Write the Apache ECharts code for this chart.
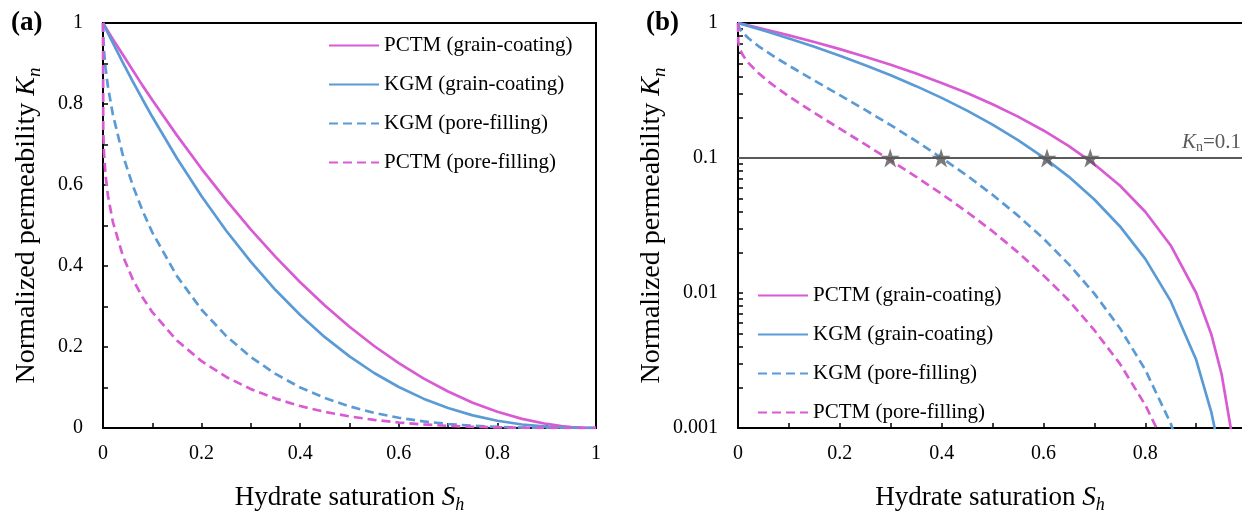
<!DOCTYPE html>
<html><head><meta charset="utf-8">
<script src="https://cdn.jsdelivr.net/npm/echarts@6/dist/echarts.min.js"></script>
<style>html,body{margin:0;padding:0;background:#fff}#c{width:1242px;height:519px}</style>
</head><body><div id="c"></div>
<script>
// Hydrate saturation sample points
const S = [0, 0.0005, 0.002, 0.005, 0.01, 0.02, 0.04, 0.06, 0.08, 0.1, 0.15, 0.2, 0.25, 0.3, 0.35, 0.4, 0.45, 0.5, 0.55, 0.6, 0.65, 0.7, 0.75, 0.8, 0.85, 0.9, 0.93, 0.95, 0.97, 0.98, 0.99, 1];
const pctmGrain = [1, 0.999, 0.996, 0.990, 0.980, 0.960, 0.922, 0.884, 0.846, 0.810, 0.7225, 0.640, 0.5625, 0.490, 0.4225, 0.360, 0.3025, 0.250, 0.2025, 0.160, 0.1225, 0.090, 0.0625, 0.040, 0.0225, 0.010, 0.0049, 0.0025, 0.0009, 0.0004, 0.0001, 0];
const kgmGrain  = [1, 0.9988, 0.995, 0.9875, 0.975, 0.9507, 0.903, 0.8566, 0.8118, 0.7684, 0.6661, 0.5724, 0.4871, 0.410, 0.3406, 0.2789, 0.2243, 0.1768, 0.1358, 0.1012, 0.0725, 0.0493, 0.03125, 0.0179, 0.0087, 0.0032, 0.0013, 0.00056, 0.00016, 0.000057, 0.00001, 0];
const kgmPore   = [1, 0.967, 0.932, 0.891, 0.843, 0.774, 0.675, 0.600, 0.537, 0.483, 0.375, 0.292, 0.227, 0.175, 0.1335, 0.100, 0.0741, 0.0534, 0.0374, 0.0253, 0.0163, 0.0099, 0.0055, 0.0027, 0.00108, 0.0003, 0.0001, 0.00003, 0.000006, 0.000002, 0.0000003, 0];
const pctmPore  = [1, 0.737, 0.680, 0.626, 0.574, 0.509, 0.426, 0.368, 0.323, 0.286, 0.216, 0.165, 0.126, 0.096, 0.0726, 0.0542, 0.0398, 0.0287, 0.0200, 0.0135, 0.0088, 0.0053, 0.0030, 0.00148, 0.00061, 0.00017, 0.00006, 0.00002, 0.000005, 0.000002, 0.0000005, 0];
const seriesNames = ['PCTM (grain-coating)', 'KGM (grain-coating)', 'KGM (pore-filling)', 'PCTM (pore-filling)'];
const seriesValues = [pctmGrain, kgmGrain, kgmPore, pctmPore];
// Sh where Kn = 0.1 (stars)
const starS = [0.299, 0.399, 0.607, 0.692];
const threshold = 0.1;
const linTicks = [0, 0.1, 0.2, 0.3, 0.4, 0.5, 0.6, 0.7, 0.8, 0.9, 1];
const linLabels = [0, 0.2, 0.4, 0.6, 0.8, 1];
const rightXLabels = [0, 0.2, 0.4, 0.6, 0.8];
const logLabels = [0.001, 0.01, 0.1, 1];
const logTicks = [0.001,0.002,0.003,0.004,0.005,0.006,0.007,0.008,0.009,0.01,0.02,0.03,0.04,0.05,0.06,0.07,0.08,0.09,0.1,0.2,0.3,0.4,0.5,0.6,0.7,0.8,0.9,1];
// right panel is cut by the image edge just before Sh = 1
const rightXMax = 0.99;

const PINK = '#D95BD3', BLUE = '#5B9BD5', GRAY = '#595959';
const colors = [PINK, BLUE, BLUE, PINK];
const dashed = [false, false, true, true];
const FONT = 'Liberation Serif';

const tickStyle = {show: true, inside: true, length: 5, lineStyle: {color: '#000', width: 1.5}};
const lineAxis = {show: true, lineStyle: {color: '#000', width: 2}};
const labelStyle = {color: '#000', fontFamily: FONT, fontSize: 20};
function nameStyle(fs) {
  return {
    fontFamily: FONT, fontSize: fs, lineHeight: fs + 6, color: '#000',
    rich: {
      i: {fontStyle: 'italic', fontFamily: FONT, fontSize: fs, lineHeight: fs + 6, color: '#000'},
      s: {fontStyle: 'italic', fontFamily: FONT, fontSize: Math.round(fs * 0.68), lineHeight: Math.round(fs * 0.68), verticalAlign: 'bottom', color: '#000'}
    }
  };
}

function xAxis(gridIndex, max, labels) {
  return {
    type: 'value', gridIndex, min: 0, max, interval: 0.1,
    axisLine: lineAxis, splitLine: {show: false},
    axisTick: Object.assign({}, tickStyle, {customValues: linTicks.filter(v => v <= max)}),
    axisLabel: Object.assign({}, labelStyle, {margin: 16, customValues: labels, formatter: v => String(+v.toFixed(1))}),
    name: 'Hydrate saturation {i|S}{s|h}', nameLocation: 'middle', nameGap: 53,
    nameTextStyle: nameStyle(27)
  };
}
function yName() {
  return {name: 'Normalized permeability {i|K}{s|n}', nameLocation: 'middle', nameGap: 59, nameRotate: 90, nameTextStyle: nameStyle(28)};
}

const series = [];
seriesNames.forEach((n, k) => {
  const base = {
    name: n, type: 'line', symbol: 'none', smooth: false, z: 3,
    lineStyle: {color: colors[k], width: 2.7, type: dashed[k] ? [9, 5] : 'solid'},
    itemStyle: {color: colors[k]}
  };
  series.push(Object.assign({}, base, {xAxisIndex: 0, yAxisIndex: 0,
    data: S.map((s, i) => [s, seriesValues[k][i]])}));
  series.push(Object.assign({}, base, {xAxisIndex: 1, yAxisIndex: 1,
    data: S.map((s, i) => [s, seriesValues[k][i]]).filter(p => p[1] > 0)}));
});
series.push({
  name: 'threshold', type: 'line', xAxisIndex: 1, yAxisIndex: 1, data: [], z: 2,
  markLine: {
    silent: true, symbol: ['none', 'none'],
    lineStyle: {color: GRAY, width: 2, type: 'solid'},
    label: {
      position: 'insideEndTop', distance: [1, 4], color: GRAY,
      formatter: '{k|K}{n|n}{e|=0.1}',
      rich: {
        k: {fontFamily: FONT, fontStyle: 'italic', fontSize: 21, lineHeight: 24, color: GRAY},
        n: {fontFamily: FONT, fontSize: 14, lineHeight: 14, verticalAlign: 'bottom', color: GRAY},
        e: {fontFamily: FONT, fontSize: 21, lineHeight: 24, color: GRAY}
      }
    },
    data: [{yAxis: threshold}]
  }
});
series.push({
  name: 'stars', type: 'scatter', xAxisIndex: 1, yAxisIndex: 1, z: 10,
  symbol: 'path://M50,0 L61.8,35.1 L98.9,35.1 L68.9,56.9 L80.3,92.1 L50,70.3 L19.7,92.1 L31.1,56.9 L1.1,35.1 L38.2,35.1 Z',
  symbolSize: 19, itemStyle: {color: GRAY},
  data: starS.map(s => [s, threshold])
});

const legendBase = {
  orient: 'vertical', itemWidth: 50, itemHeight: 14, itemGap: 18, padding: 0,
  itemStyle: {opacity: 0},
  textStyle: {fontFamily: FONT, fontSize: 21, lineHeight: 21, color: '#000'},
  data: seriesNames
};

const option = {
  animation: false,
  backgroundColor: '#fff',
  title: [
    {text: '(a)', left: 11, top: 10, padding: 0, textStyle: {fontFamily: FONT, fontWeight: 'bold', fontSize: 27, color: '#000'}},
    {text: '(b)', left: 646, top: 10, padding: 0, textStyle: {fontFamily: FONT, fontWeight: 'bold', fontSize: 27, color: '#000'}}
  ],
  legend: [
    Object.assign({}, legendBase, {left: 328, top: 35}),
    Object.assign({}, legendBase, {left: 757, top: 285})
  ],
  grid: [
    {left: 103, top: 23, right: 646, bottom: 81, show: true, borderColor: '#000', borderWidth: 2},
    {left: 738, top: 23, right: 0, bottom: 81, show: false}
  ],
  xAxis: [
    xAxis(0, 1, linLabels),
    xAxis(1, rightXMax, rightXLabels),
    {type: 'value', gridIndex: 1, position: 'top', min: 0, max: rightXMax,
     axisLine: lineAxis, axisTick: {show: false}, axisLabel: {show: false}, splitLine: {show: false}}
  ],
  yAxis: [
    Object.assign({
      type: 'value', gridIndex: 0, min: 0, max: 1, interval: 0.1,
      axisLine: lineAxis, splitLine: {show: false},
      axisTick: Object.assign({}, tickStyle, {customValues: linTicks}),
      axisLabel: Object.assign({}, labelStyle, {margin: 20, customValues: linLabels, formatter: v => String(+v.toFixed(1))})
    }, yName()),
    Object.assign({
      type: 'log', logBase: 10, gridIndex: 1, min: 0.001, max: 1,
      axisLine: lineAxis, splitLine: {show: false}, minorTick: {show: false},
      axisTick: Object.assign({}, tickStyle, {customValues: logTicks}),
      axisLabel: Object.assign({}, labelStyle, {margin: 20, customValues: logLabels, formatter: v => String(+(+v).toPrecision(3))})
    }, yName())
  ],
  series
};
const chart = echarts.init(document.getElementById('c'));
chart.setOption(option);
</script>
</body></html>
